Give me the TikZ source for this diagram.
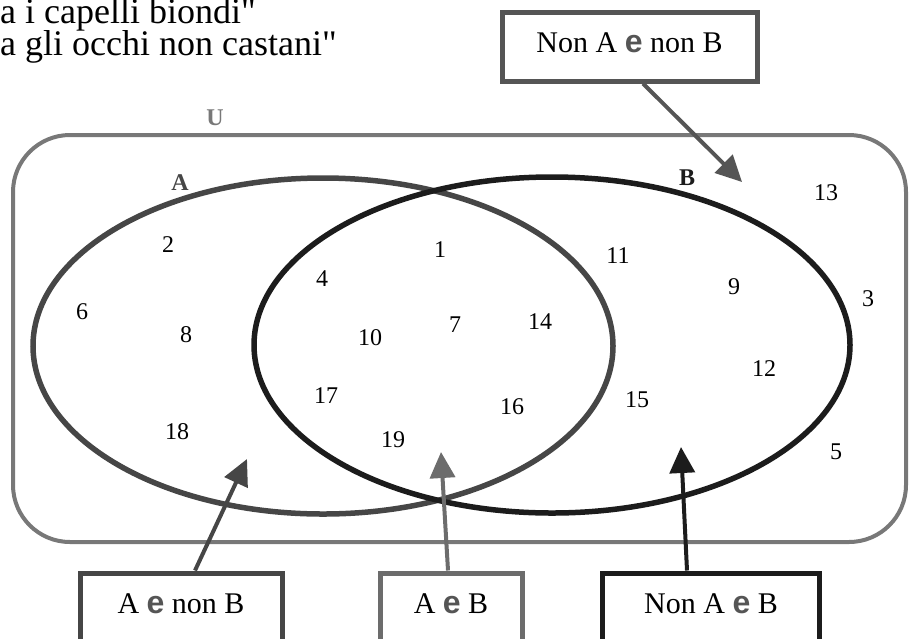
\documentclass[tikz,border=0pt]{standalone}
\usepackage{fontspec}
\setmainfont{Liberation Serif}
\setsansfont{Liberation Sans}
\newfontfamily\plainserif{Liberation Serif}[Ligatures=TeXOff]
\usetikzlibrary{arrows.meta}

\definecolor{ugray}{HTML}{787878}
\definecolor{agray}{HTML}{464646}
\definecolor{bblack}{HTML}{1C1C1C}
\definecolor{topgray}{HTML}{555555}
\definecolor{midgray}{HTML}{6C6C6C}
\definecolor{egray}{HTML}{555555}

% bold grey conjunction used inside the region labels
\newcommand{\conj}{{\color{egray}\sffamily\bfseries\fontsize{32}{32}\selectfont e}}

\tikzset{
  num/.style={font=\fontsize{24}{24}\selectfont, inner sep=0pt},
  setlabel/.style={font=\bfseries\fontsize{24}{24}\selectfont, inner sep=0pt},
  regionbox/.style={line width=5pt, fill=white, inner sep=0pt, text=black,
    font=\fontsize{30}{30}\selectfont, anchor=base},
  pointer/.style={line width=4pt, -{Triangle[length=26pt,width=25pt]}},
  caption/.style={font=\plainserif\fontsize{36}{32}\selectfont, inner sep=0pt, anchor=base west}
}

\begin{document}
\begin{tikzpicture}[x=1pt,y=-1pt]
\useasboundingbox (0,0) rectangle (909,638);
\clip (0,0) rectangle (909,638);

% statement of the two sets (two tightly spaced lines)
\node[caption] (cap) at (0,23)
  {\vtop{\baselineskip=32pt\lineskiplimit=-100pt
         \hbox{a i capelli biondi"}\hbox{a gli occhi non castani"}}};

% universe
\draw[ugray, line width=4pt, rounded corners=57pt] (13,135) rectangle (906,542);
\node[setlabel, text=ugray] (labU) at (215,118) {U};

% the two sets
\draw[agray, line width=5.5pt] (323,346) ellipse [x radius=290, y radius=168];
\draw[bblack, line width=5.5pt] (552,345) ellipse [x radius=298, y radius=168];
\node[setlabel, text=agray] (labA) at (180,183) {A};
\node[setlabel, text=bblack] (labB) at (687,178) {B};

% elements
\node[num] (n1)  at (440,250) {1};
\node[num] (n2)  at (168,245) {2};
\node[num] (n3)  at (868,299) {3};
\node[num] (n4)  at (322,279) {4};
\node[num] (n5)  at (836,452) {5};
\node[num] (n6)  at (82,312)  {6};
\node[num] (n7)  at (455,325) {7};
\node[num] (n8)  at (186,335) {8};
\node[num] (n9)  at (734,287) {9};
\node[num] (n10) at (370,338) {10};
\node[num] (n11) at (618,256) {11};
\node[num] (n12) at (764,369) {12};
\node[num] (n13) at (826,193) {13};
\node[num] (n14) at (540,322) {14};
\node[num] (n15) at (637,400) {15};
\node[num] (n16) at (512,407) {16};
\node[num] (n17) at (326,396) {17};
\node[num] (n18) at (177,432) {18};
\node[num] (n19) at (393,440) {19};

% region captions
\node[regionbox, draw=topgray, minimum width=255pt,
      text height=40pt, text depth=29pt] (boxNN) at (629.5,52) {Non A \conj{} non B};
\node[regionbox, draw=agray, minimum width=202pt,
      text height=40pt, text depth=70pt] (boxAnB) at (181,613) {A \conj{} non B};
\node[regionbox, draw=midgray, minimum width=142pt,
      text height=40pt, text depth=70pt] (boxAB) at (451,613) {A \conj{} B};
\node[regionbox, draw=bblack, minimum width=217pt,
      text height=40pt, text depth=70pt] (boxNAB) at (711,613) {Non A \conj{} B};

% pointer tips
\coordinate (tipNN)  at (742,182);
\coordinate (tipAnB) at (247,459);
\coordinate (tipAB)  at (441,452);
\coordinate (tipNAB) at (681,447);

\draw[pointer, topgray] ([xshift=13.5pt]boxNN.south) -- (tipNN);
\draw[pointer, agray]   ([xshift=14pt]boxAnB.north) -- (tipAnB);
\draw[pointer, midgray] ([xshift=-3pt]boxAB.north) -- (tipAB);
\draw[pointer, bblack]  ([xshift=-24pt]boxNAB.north) -- (tipNAB);
\end{tikzpicture}
\end{document}
